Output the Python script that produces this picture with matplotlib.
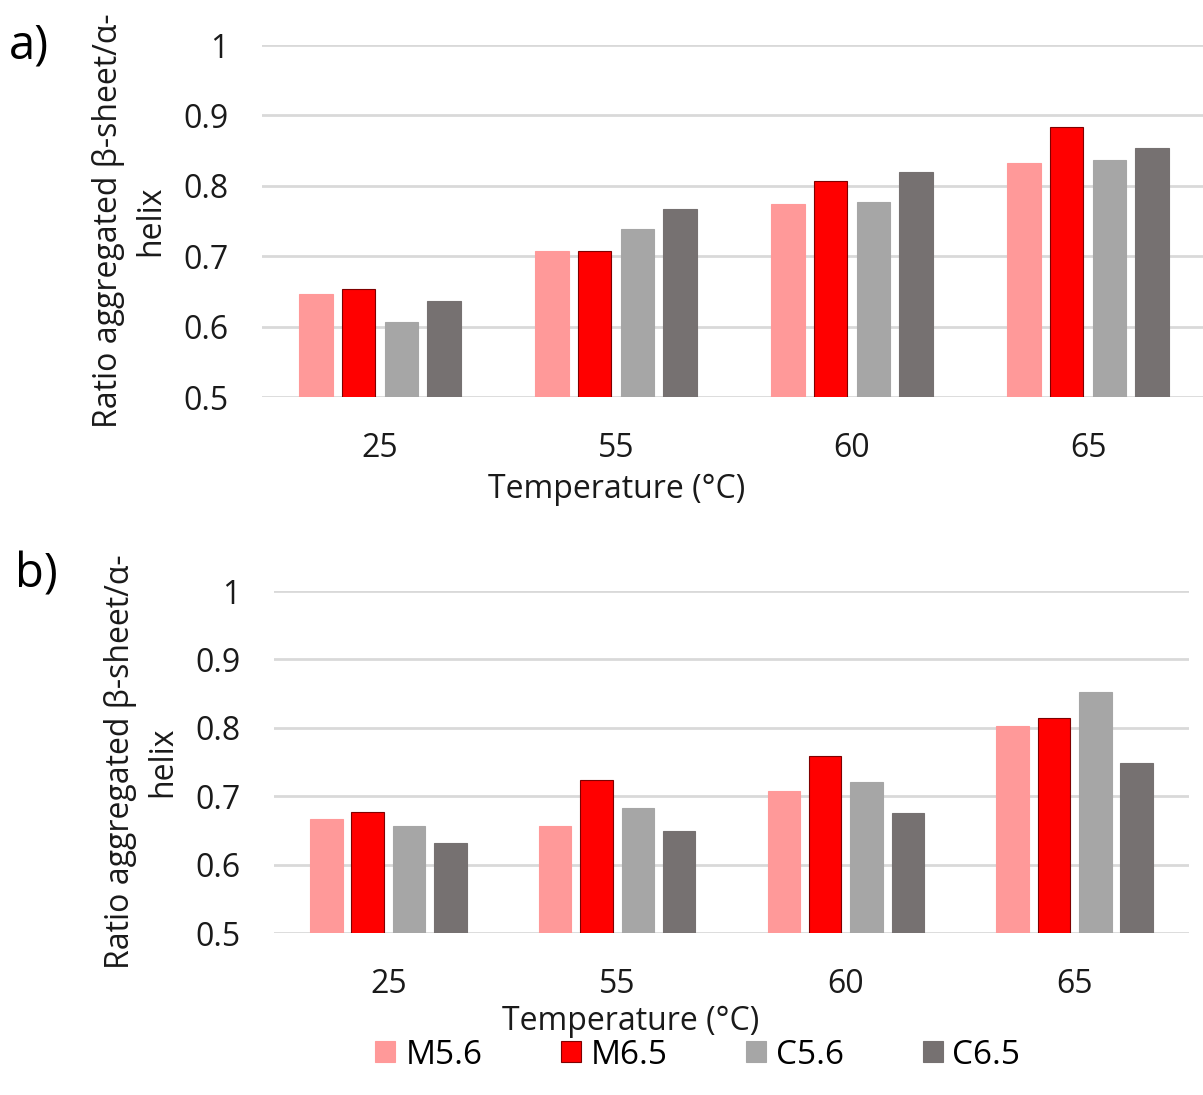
import matplotlib
matplotlib.use("Agg")
import matplotlib.pyplot as plt
import numpy as np

# data
temps = ["25", "55", "60", "65"]
series = ["M5.6", "M6.5", "C5.6", "C6.5"]
colors = ["#FF9999", "#FF0000", "#A6A6A6", "#767171"]

# panel a)
m56_a = [0.646, 0.708, 0.774, 0.833]
m65_a = [0.653, 0.708, 0.807, 0.883]
c56_a = [0.606, 0.738, 0.777, 0.836]
c65_a = [0.636, 0.767, 0.820, 0.853]

# panel b)
m56_b = [0.667, 0.656, 0.707, 0.802]
m65_b = [0.677, 0.724, 0.759, 0.815]
c56_b = [0.656, 0.683, 0.721, 0.852]
c65_b = [0.632, 0.649, 0.676, 0.748]

plt.rcParams["font.family"] = ["Open Sans", "DejaVu Sans"]

W, H = 1203, 1095
FS = 23
fig = plt.figure(figsize=(W / 100, H / 100), dpi=100)


def px_axes(left, right, top, bottom):
    return fig.add_axes([left / W, 1 - bottom / H, (right - left) / W, (bottom - top) / H])


def draw_panel(ax, values, xlab_x, xlab_y):
    x = np.arange(len(temps))
    width = 0.142
    step = 0.181
    handles = []
    for i, (vals, col) in enumerate(zip(values, colors)):
        edge = "#7F0000" if col == "#FF0000" else col
        b = ax.bar(x + (i - 1.5) * step, vals, width, color=col, edgecolor=edge,
                   linewidth=0.8, zorder=3, label=series[i])
        handles.append(b)
    ax.set_ylim(0.5, 1.0)
    ax.set_xlim(-0.5, len(temps) - 0.5)
    ax.set_yticks([0.5, 0.6, 0.7, 0.8, 0.9, 1.0])
    ax.set_yticklabels(["0.5", "0.6", "0.7", "0.8", "0.9", "1"])
    ax.set_xticks(x)
    ax.set_xticklabels(temps)
    ax.grid(axis="y", color="#D9D9D9", linewidth=2, zorder=0)
    for s in ["top", "right", "left", "bottom"]:
        ax.spines[s].set_visible(False)
    ax.tick_params(axis="both", length=0, labelsize=FS, colors="#1a1a1a")
    ax.tick_params(axis="y", pad=24)
    ax.tick_params(axis="x", pad=25)
    ax.set_xlabel("Temperature (°C)", fontsize=FS, color="#1a1a1a")
    ax.xaxis.set_label_coords(xlab_x, xlab_y)
    ax.set_ylabel("Ratio aggregated β-sheet/α-\nhelix", fontsize=FS, color="#1a1a1a",
                  linespacing=1.35, labelpad=12)
    return handles


ax1 = px_axes(262, 1206, 45, 397)
h = draw_panel(ax1, [m56_a, m65_a, c56_a, c65_a], (617 - 262) / 944, -(473 - 397) / 352)

ax2 = px_axes(274, 1189, 591, 933)
draw_panel(ax2, [m56_b, m65_b, c56_b, c65_b], (631 - 274) / 915, -(1005 - 933) / 342)

fig.text(9 / W, 1 - 46 / H, "a)", fontsize=34, va="center", ha="left")
fig.text(15 / W, 1 - 575 / H, "b)", fontsize=34, va="center", ha="left")

fig.legend(h, series, loc="center", bbox_to_anchor=(698 / W, 1 - 1055 / H), ncol=4,
           frameon=False, fontsize=24, handlelength=0.6, handleheight=0.6,
           handletextpad=0.3, columnspacing=2.35)

fig.savefig("out.png", dpi=100)
